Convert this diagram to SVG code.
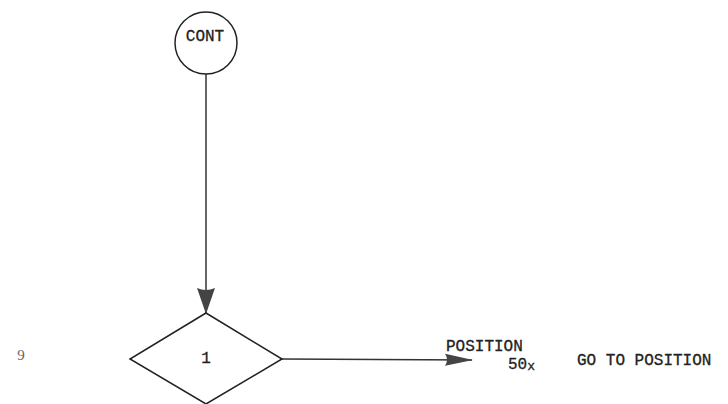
<svg xmlns="http://www.w3.org/2000/svg" width="728" height="404" viewBox="0 0 728 404">
<style>
.shape{fill:#fff;stroke:#222;stroke-width:1.5}
.t{font-family:"Liberation Mono","Courier New",monospace;font-size:16px;fill:#222;stroke:#222;stroke-width:0.3}
.line{stroke:#333;stroke-width:1.5;fill:none}
</style>
<defs>
<marker id="ah" viewBox="0 0 28 14" refX="27" refY="7" markerWidth="28" markerHeight="14" markerUnits="userSpaceOnUse" orient="auto">
<path d="M0,1 L28,7 L0,13 Q4,7 0,1 Z" fill="#444"/>
</marker>
<marker id="av" viewBox="0 0 26 18" refX="25" refY="9" markerWidth="26" markerHeight="18" markerUnits="userSpaceOnUse" orient="auto">
<path d="M0,0 L26,9 L0,18 Q4,9 0,0 Z" fill="#444"/>
</marker>
</defs>
<rect width="728" height="404" fill="#fff"/>
<g id="connectors">
<line class="line" x1="206" y1="74" x2="206" y2="313" marker-end="url(#av)"/>
<line class="line" x1="282" y1="359" x2="472" y2="360" marker-end="url(#ah)"/>
</g>
<g id="cont">
<circle class="shape" cx="206" cy="43" r="31"/>
<text class="t" x="205" y="41" text-anchor="middle" font-size="15">CONT</text>
</g>
<g id="decision1">
<polygon class="shape" points="206,313 282,359 206,404 130,359"/>
<text class="t" x="206" y="363" text-anchor="middle" font-size="14">1</text>
</g>
<g id="position">
<text class="t" x="446" y="351" font-size="15.5">POSITION</text>
<text class="t" x="508" y="369" font-size="15">50<tspan font-size="13" dy="1">x</tspan></text>
</g>
<g id="desc">
<text class="t" x="577" y="365">GO TO POSITION</text>
</g>
<g id="rownum">
<text x="21" y="360" text-anchor="middle" font-family="Liberation Serif, serif" font-size="15" fill="#666">9</text>
</g>
</svg>
